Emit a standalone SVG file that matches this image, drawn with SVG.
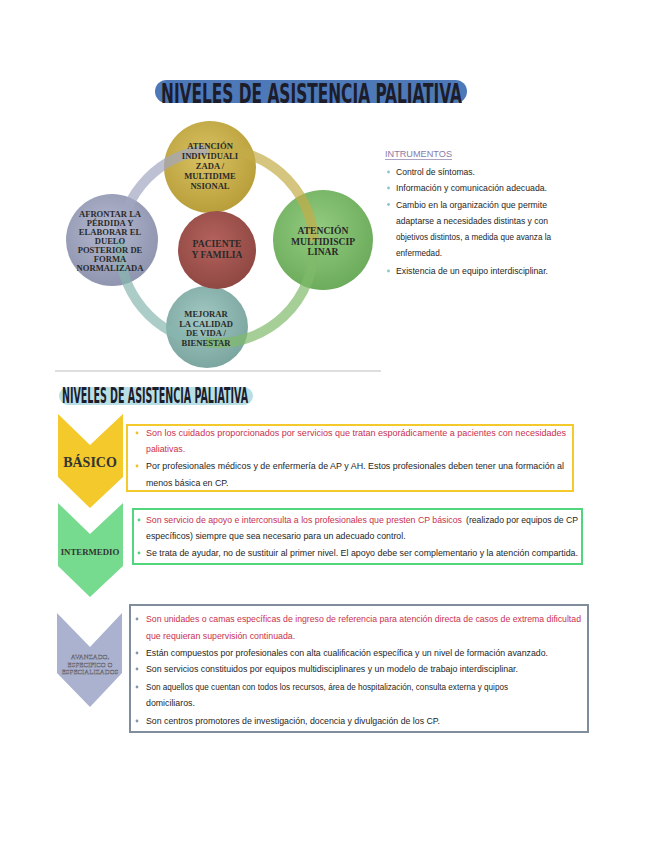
<svg xmlns="http://www.w3.org/2000/svg" width="648" height="848" viewBox="0 0 648 848">
<style>
.ttl{font-family:"DejaVu Sans Condensed","DejaVu Sans",sans-serif;font-weight:bold;fill:#1c1c2a}
.ct{font-family:"Liberation Serif",serif;font-weight:bold;font-size:8.6px;fill:#2a2a2a;text-anchor:middle}
.ct2{font-size:9.6px}
.bt{font-family:"Liberation Sans",sans-serif;font-size:8.8px;fill:#262626}
.red{fill:#c9304f}
.lvl{font-family:"Liberation Serif",serif;font-weight:bold;text-anchor:middle;fill:#333}
.ring{fill:none;stroke-width:10;opacity:0.7}
</style>
<defs>
<radialGradient id="gTop" cx="45%" cy="40%" r="60%"><stop offset="0" stop-color="#d9c264"/><stop offset="1" stop-color="#b99f3a"/></radialGradient>
<radialGradient id="gRight" cx="45%" cy="40%" r="60%"><stop offset="0" stop-color="#93cc80"/><stop offset="1" stop-color="#6dac5c"/></radialGradient>
<radialGradient id="gLeft" cx="45%" cy="40%" r="60%"><stop offset="0" stop-color="#b4b8cf"/><stop offset="1" stop-color="#9095b0"/></radialGradient>
<radialGradient id="gBot" cx="45%" cy="40%" r="60%"><stop offset="0" stop-color="#a2c8c3"/><stop offset="1" stop-color="#7ca6a0"/></radialGradient>
<radialGradient id="gCen" cx="45%" cy="40%" r="60%"><stop offset="0" stop-color="#b4625c"/><stop offset="1" stop-color="#904843"/></radialGradient>
</defs>
<rect width="648" height="848" fill="#ffffff"/>

<g id="title">
<rect x="155" y="80" width="312" height="23" rx="11.5" fill="#4e79b9"/>
<text class="ttl" x="161" y="103" font-size="27" textLength="301" lengthAdjust="spacingAndGlyphs">NIVELES DE ASISTENCIA PALIATIVA</text>
</g>

<g id="node-top">
<circle cx="210" cy="167" r="46" fill="url(#gTop)"/>
</g>
<g id="node-right">
<circle cx="323" cy="240" r="50" fill="url(#gRight)"/>
</g>
<g id="node-left">
<circle cx="112" cy="240" r="46" fill="url(#gLeft)"/>
</g>
<g id="node-bottom">
<circle cx="207" cy="327" r="41" fill="url(#gBot)"/>
</g>
<g id="node-center">
<circle cx="217" cy="250" r="39" fill="url(#gCen)"/>
</g>

<g id="connectors">
<path class="ring" stroke="#c3ad48" d="M208.5,149.4 A97,97 0 0 1 313.9,240.9"/>
<path class="ring" stroke="#7fbb6a" d="M313.9,240.9 A97,97 0 0 1 205.2,342.3"/>
<path class="ring" stroke="#88b6af" d="M205.2,342.3 A97,97 0 0 1 120.1,240.9"/>
<path class="ring" stroke="#a2a7c2" d="M120.1,240.9 A97,97 0 0 1 208.5,149.4"/>
</g>

<g id="labels-circles">
<text class="ct" x="210" y="149">ATENCIÓN</text>
<text class="ct" x="210" y="159">INDIVIDUALI</text>
<text class="ct" x="210" y="169">ZADA /</text>
<text class="ct" x="210" y="179">MULTIDIME</text>
<text class="ct" x="210" y="189">NSIONAL</text>
<text class="ct ct2" x="323" y="234">ATENCIÓN</text>
<text class="ct ct2" x="323" y="244.5">MULTIDISCIP</text>
<text class="ct ct2" x="323" y="255">LINAR</text>
<text class="ct" x="110" y="217">AFRONTAR LA</text>
<text class="ct" x="110" y="226">PÉRDIDA Y</text>
<text class="ct" x="110" y="235">ELABORAR EL</text>
<text class="ct" x="110" y="244">DUELO</text>
<text class="ct" x="110" y="253">POSTERIOR DE</text>
<text class="ct" x="110" y="262">FORMA</text>
<text class="ct" x="110" y="271">NORMALIZADA</text>
<text class="ct ct2" x="217" y="247">PACIENTE</text>
<text class="ct ct2" x="217" y="258">Y FAMILIA</text>
<text class="ct" x="206" y="317">MEJORAR</text>
<text class="ct" x="206" y="326.5">LA CALIDAD</text>
<text class="ct" x="206" y="336">DE VIDA /</text>
<text class="ct" x="206" y="345.5">BIENESTAR</text>
</g>

<line x1="55" y1="371" x2="381" y2="371" stroke="#dedede" stroke-width="2"/>

<g id="instrumentos">
<text class="bt" x="385" y="157" style="fill:#8a7aa8" textLength="67" lengthAdjust="spacingAndGlyphs">INTRUMENTOS</text>
<line x1="385" y1="159.5" x2="452" y2="159.5" stroke="#8a7aa8" stroke-width="0.7"/>
<g fill="#8ec4c6">
<circle cx="388.5" cy="172" r="1.4"/>
<circle cx="388.5" cy="188" r="1.4"/>
<circle cx="388.5" cy="204.5" r="1.4"/>
<circle cx="388.5" cy="271" r="1.4"/>
</g>
<text class="bt" x="396" y="175" textLength="79" lengthAdjust="spacingAndGlyphs">Control de síntomas.</text>
<text class="bt" x="396" y="191" textLength="151" lengthAdjust="spacingAndGlyphs">Información y comunicación adecuada.</text>
<text class="bt" x="396" y="207.5" textLength="151" lengthAdjust="spacingAndGlyphs">Cambio en la organización que permite</text>
<text class="bt" x="396" y="223.5" textLength="152" lengthAdjust="spacingAndGlyphs">adaptarse a necesidades distintas y con</text>
<text class="bt" x="396" y="239.5" textLength="155" lengthAdjust="spacingAndGlyphs">objetivos distintos, a medida que avanza la</text>
<text class="bt" x="396" y="255.5" textLength="46" lengthAdjust="spacingAndGlyphs">enfermedad.</text>
<text class="bt" x="396" y="274" textLength="152" lengthAdjust="spacingAndGlyphs">Existencia de un equipo interdisciplinar.</text>
</g>

<g id="subtitle">
<rect x="59" y="387" width="194" height="18" rx="9" fill="#b9dfe6"/>
<text class="ttl" x="62" y="403" font-size="21" textLength="186" lengthAdjust="spacingAndGlyphs">NIVELES DE ASISTENCIA PALIATIVA</text>
</g>

<g id="level-basico">
<polygon points="58,414 90,445 123,414 123,477 90,508 58,477" fill="#f4c92b"/>
<text class="lvl" x="90" y="467" font-size="14">BÁSICO</text>
</g>
<g id="level-intermedio">
<polygon points="58,503 90,534 123,503 123,566 90,597 58,566" fill="#77db8f"/>
<text class="lvl" x="90" y="555" font-size="8.8">INTERMEDIO</text>
</g>
<g id="level-avanzado">
<polygon points="57,613 90,647 122,613 122,673 90,707 57,673" fill="#aab2cf"/>
<g font-family="Liberation Serif, serif" text-anchor="middle" font-size="6.8" style="fill:#ffffff;stroke:#50505c;stroke-width:0.4">
<text x="90" y="659">AVANZADO,</text>
<text x="90" y="666.5">ESPECIFICO O</text>
<text x="90" y="674">ESPECIALIZADOS</text>
</g>
</g>

<g id="box-basico">
<rect x="127" y="425" width="446" height="66" fill="none" stroke="#f4c92b" stroke-width="2"/>
<g fill="#f0c020"><circle cx="137" cy="433" r="1.4"/><circle cx="137" cy="466" r="1.4"/></g>
<text class="bt red" x="146" y="436" textLength="420" lengthAdjust="spacingAndGlyphs">Son los cuidados proporcionados por servicios que tratan esporádicamente a pacientes con necesidades</text>
<text class="bt red" x="146" y="452">paliativas.</text>
<text class="bt" x="146" y="469" textLength="418" lengthAdjust="spacingAndGlyphs">Por profesionales médicos y de enfermería de AP y AH. Estos profesionales deben tener una formación al</text>
<text class="bt" x="146" y="486">menos básica en CP.</text>
</g>

<g id="box-intermedio">
<rect x="133" y="509" width="449" height="55" fill="none" stroke="#52d67d" stroke-width="2"/>
<g fill="#4fd47a"><circle cx="139" cy="520" r="1.4"/><circle cx="139" cy="553" r="1.4"/></g>
<text class="bt red" x="146" y="523" textLength="316" lengthAdjust="spacingAndGlyphs">Son servicio de apoyo e interconsulta a los profesionales que presten CP básicos</text>
<text class="bt" x="466" y="523" textLength="112" lengthAdjust="spacingAndGlyphs">(realizado por equipos de CP</text>
<text class="bt" x="146" y="539">específicos) siempre que sea necesario para un adecuado control.</text>
<text class="bt" x="146" y="556" textLength="432" lengthAdjust="spacingAndGlyphs">Se trata de ayudar, no de sustituir al primer nivel. El apoyo debe ser complementario y la atención compartida.</text>
</g>

<g id="box-avanzado">
<rect x="130" y="605" width="458" height="127" fill="none" stroke="#7f8d9c" stroke-width="2"/>
<g fill="#8a96a3">
<circle cx="137" cy="619" r="1.4"/><circle cx="137" cy="653" r="1.4"/><circle cx="137" cy="669" r="1.4"/><circle cx="137" cy="687" r="1.4"/><circle cx="137" cy="721" r="1.4"/>
</g>
<text class="bt red" x="146" y="622" textLength="435" lengthAdjust="spacingAndGlyphs">Son unidades o camas específicas de ingreso de referencia para atención directa de casos de extrema dificultad</text>
<text class="bt red" x="146" y="639">que requieran supervisión continuada.</text>
<text class="bt" x="146" y="656" textLength="402" lengthAdjust="spacingAndGlyphs">Están compuestos por profesionales con alta cualificación específica y un nivel de formación avanzado.</text>
<text class="bt" x="146" y="672" textLength="372" lengthAdjust="spacingAndGlyphs">Son servicios constituidos por equipos multidisciplinares y un modelo de trabajo interdisciplinar.</text>
<text class="bt" x="146" y="690" textLength="362" lengthAdjust="spacingAndGlyphs">Son aquellos que cuentan con todos los recursos, área de hospitalización, consulta externa y quipos</text>
<text class="bt" x="146" y="706">domiciliaros.</text>
<text class="bt" x="146" y="724" textLength="294" lengthAdjust="spacingAndGlyphs">Son centros promotores de investigación, docencia y divulgación de los CP.</text>
</g>
</svg>
